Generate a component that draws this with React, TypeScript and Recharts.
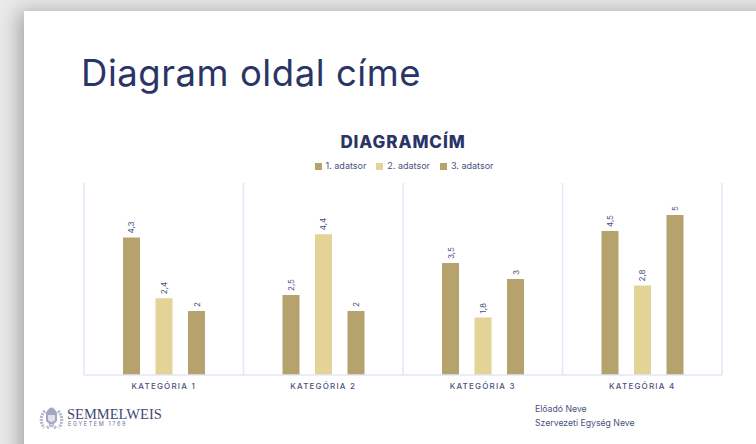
import { Bar, BarChart, CartesianGrid, LabelList, Legend, XAxis, YAxis } from "recharts";

const categories = ["KATEGÓRIA 1", "KATEGÓRIA 2", "KATEGÓRIA 3", "KATEGÓRIA 4"];
const series1 = [4.3, 2.5, 3.5, 4.5];
const series2 = [2.4, 4.4, 1.8, 2.8];
const series3 = [2, 2, 3, 5];
const seriesNames = ["1. adatsor", "2. adatsor", "3. adatsor"];

const data = categories.map((name, i) => ({
  name,
  s1: series1[i],
  s2: series2[i],
  s3: series3[i],
}));

const FONT = "Inter, 'DejaVu Sans', sans-serif";
const NAVY = "#2a3466";
const TEXT = "#4a5180";
const DARK = "#b5a26c";
const LIGHT = "#e3d396";
const GRID = "#e3e6f4";

function fmt(v: number) {
  return String(v).replace(".", ",");
}

function RotatedLabel(props: any) {
  const { x, y, width, value } = props;
  const cx = x + width / 2;
  const cy = y - 4;
  return (
    <text
      x={cx}
      y={cy}
      dy={3}
      transform={`rotate(-90 ${cx} ${cy})`}
      fontSize={8}
      fontFamily={FONT}
      fill={TEXT}
      textAnchor="start"
    >
      {fmt(value)}
    </text>
  );
}

// rough stand-in for the university crest
function Crest() {
  return (
    <svg width={27} height={28} viewBox="0 0 27 28" style={{ position: "absolute", left: 38, top: 403 }}>
      <path d="M8 10 Q13.5 -1 19 10 L19 18 Q13.5 25 8 18 Z" fill="#a3a8c2" />
      <path d="M10 12 H17 V17 Q13.5 21 10 17 Z" fill="#dfe1ec" />
      <path
        d="M7 8 Q0 15 6 25 M20 8 Q27 15 21 25 M9 25 L13 22 M18 25 L14 22"
        fill="none"
        stroke="#b4b8ce"
        strokeWidth={3.2}
        strokeDasharray="2 1"
      />
    </svg>
  );
}

export default function App() {
  return (
    <div
      style={{
        position: "fixed",
        left: 0,
        top: 0,
        width: 756,
        height: 444,
        overflow: "hidden",
        background: "#e9e9e9",
        fontFamily: FONT,
      }}
    >
      <div
        style={{
          position: "absolute",
          left: 24,
          top: 11,
          width: 760,
          height: 460,
          background: "#fff",
          boxShadow: "-5px 1px 18px rgba(0,0,0,0.3)",
        }}
      />
      <div
        style={{
          position: "absolute",
          left: 81,
          top: 51,
          fontSize: 36.5,
          lineHeight: "44px",
          color: NAVY,
          letterSpacing: 0.55,
          whiteSpace: "nowrap",
        }}
      >
        Diagram oldal címe
      </div>
      <div
        style={{
          position: "absolute",
          left: 0,
          width: 806,
          top: 131,
          textAlign: "center",
          fontSize: 17,
          lineHeight: "22px",
          fontWeight: 800,
          color: NAVY,
          letterSpacing: 0.9,
        }}
      >
        DIAGRAMCÍM
      </div>
      <div style={{ position: "absolute", left: 0, top: 0 }}>
        <BarChart
          width={756}
          height={444}
          data={data}
          margin={{ top: 171, right: 34, bottom: 49, left: 84 }}
          barSize={17}
          barGap={15.5}
        >
          <CartesianGrid
            horizontal={false}
            stroke={GRID}
            strokeWidth={1.5}
            verticalCoordinatesGenerator={({ offset }: any) =>
              [0, 1, 2, 3, 4].map((i) => offset.left + (i * offset.width) / categories.length)
            }
          />
          <XAxis
            dataKey="name"
            axisLine={{ stroke: GRID, strokeWidth: 1.5 }}
            tickLine={false}
            tickMargin={2}
            height={20}
            tick={{ fontSize: 8, fontFamily: FONT, fontWeight: 500, fill: TEXT, letterSpacing: 1.2 }}
          />
          <YAxis hide domain={[0, 6]} />
          <Legend
            verticalAlign="top"
            iconType="square"
            iconSize={7}
            height={0}
            wrapperStyle={{ top: 160, left: 6, width: 806, fontSize: 9, lineHeight: "12px" }}
            formatter={(value: string) => <span style={{ color: TEXT }}>{value}</span>}
          />
          <Bar dataKey="s1" name={seriesNames[0]} fill={DARK} isAnimationActive={false}>
            <LabelList dataKey="s1" content={RotatedLabel} />
          </Bar>
          <Bar dataKey="s2" name={seriesNames[1]} fill={LIGHT} isAnimationActive={false}>
            <LabelList dataKey="s2" content={RotatedLabel} />
          </Bar>
          <Bar dataKey="s3" name={seriesNames[2]} fill={DARK} isAnimationActive={false}>
            <LabelList dataKey="s3" content={RotatedLabel} />
          </Bar>
        </BarChart>
      </div>
      <Crest />
      <div
        style={{
          position: "absolute",
          left: 67,
          top: 406,
          fontFamily: "'Liberation Serif', serif",
          fontSize: 14.5,
          lineHeight: "16px",
          color: "#3f4775",
          whiteSpace: "nowrap",
        }}
      >
        SEMMELWEIS
      </div>
      <div
        style={{
          position: "absolute",
          left: 68,
          top: 420,
          fontSize: 5.5,
          lineHeight: "8px",
          letterSpacing: 1.6,
          color: "#6a7096",
          whiteSpace: "nowrap",
        }}
      >
        EGYETEM 1769
      </div>
      <div style={{ position: "absolute", left: 535, top: 403, fontSize: 8.7, lineHeight: "12px", color: TEXT, whiteSpace: "nowrap" }}>
        Előadó Neve
      </div>
      <div style={{ position: "absolute", left: 535, top: 417, fontSize: 8.7, lineHeight: "12px", color: TEXT, whiteSpace: "nowrap" }}>
        Szervezeti Egység Neve
      </div>
    </div>
  );
}
